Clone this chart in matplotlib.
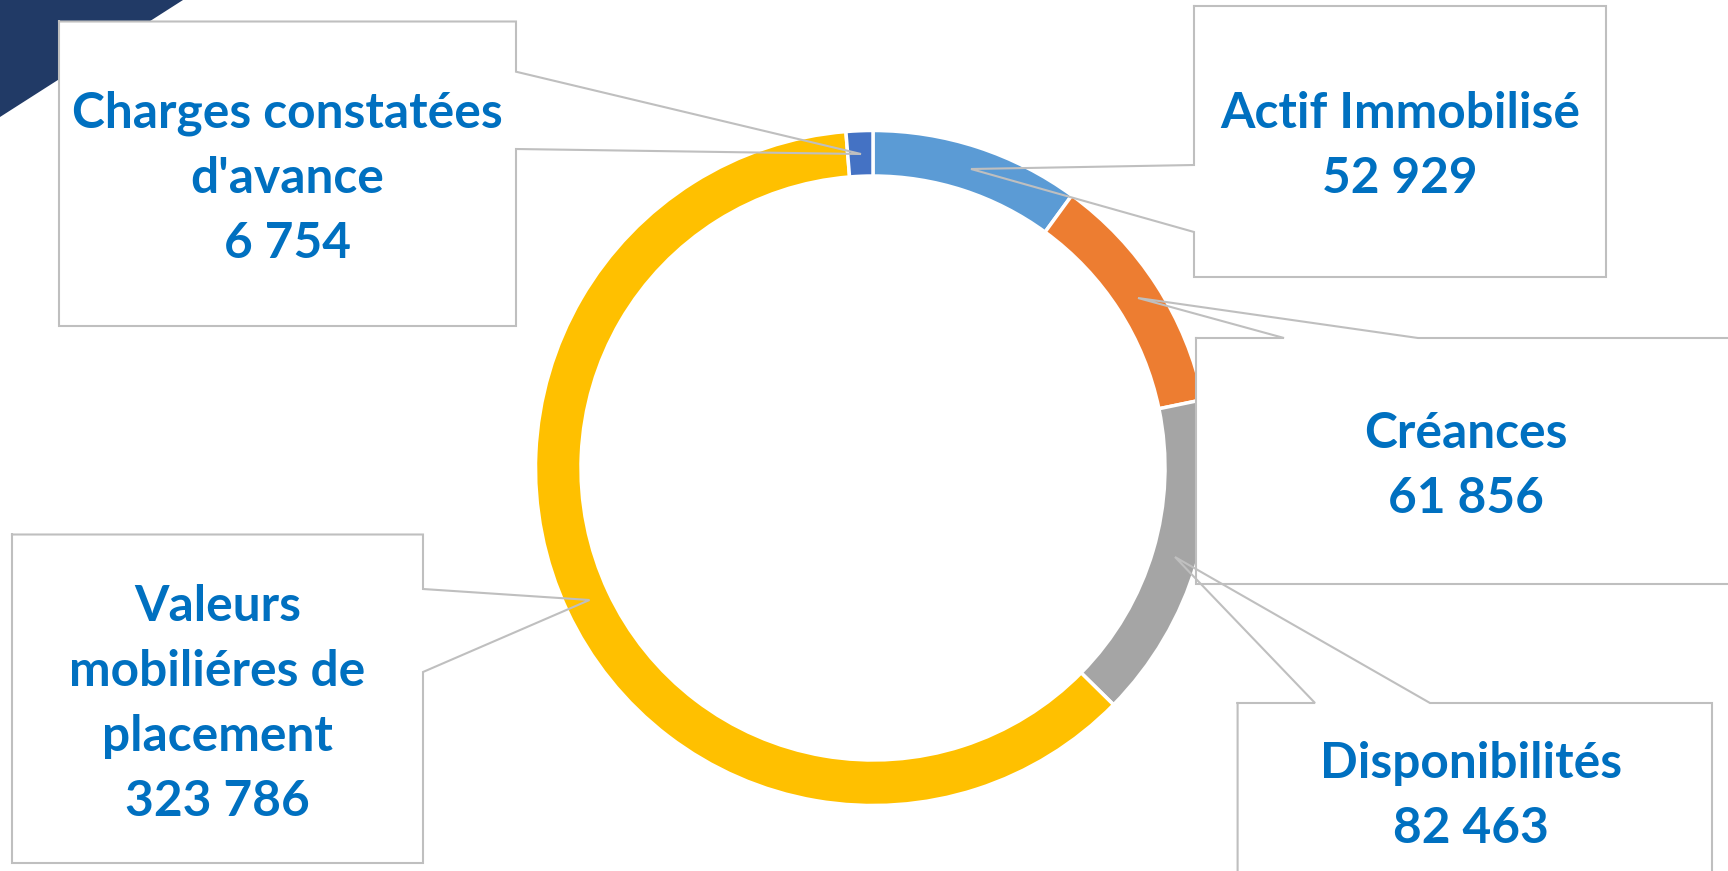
import matplotlib
matplotlib.use("Agg")
import matplotlib.pyplot as plt
from matplotlib.patches import Rectangle, Polygon
from matplotlib.lines import Line2D

# ---------------- data ----------------
categories = ["Actif Immobilisé", "Créances", "Disponibilités",
              "Valeurs mobiliéres de placement", "Charges constatées d'avance"]
values = [52929, 61856, 82463, 323786, 6754]
wrapped_labels = ["Actif Immobilisé", "Créances", "Disponibilités",
                  "Valeurs\nmobiliéres de\nplacement", "Charges constatées\nd'avance"]
colors = ["#5B9BD5", "#ED7D31", "#A5A5A5", "#FFC000", "#4472C4"]

# ---------------- layout (pixel coords, y down) ----------------
W, H = 1728, 871
DPI = 100
center = (873, 468)
r_out, r_in = 337.5, 292.0

# box: (left, top, right, bottom), pointer: (edge, a1, a2, tipx, tipy), text: (x, first baseline)
callouts = [
    dict(box=(1194, 6, 1606, 277), ptr=("left", 165, 232, 971, 169), txt=(1400, 127.7)),
    dict(box=(1196, 338, 1745, 584), ptr=("top", 1284, 1418, 1138, 298), txt=(1466, 447.5)),
    dict(box=(1237.6, 703, 1712, 900), ptr=("top", 1315, 1430, 1175, 557), txt=(1471, 777.5)),
    dict(box=(12, 534.5, 423, 863), ptr=("right", 589, 672, 589.5, 600), txt=(217.5, 620.7)),
    dict(box=(59, 21.5, 516, 326), ptr=("right", 71.7, 149, 861, 154), txt=(287.5, 127.7)),
]
LINE_STEP = 65
TEXT_COLOR = "#0070C0"
EDGE = "#BFBFBF"

fig = plt.figure(figsize=(W / DPI, H / DPI), dpi=DPI)
ax = fig.add_axes([0, 0, 1, 1])

# decorative dark corner
ax.add_patch(Polygon([(0, 0), (183, 0), (0, 117)], closed=True,
                     facecolor="#213A66", edgecolor="none", zorder=0.5))

# donut: inverted y-axis -> start at 270 (visual top), counterclock=True is visually clockwise
ax.pie(values, colors=colors, startangle=270, counterclock=True, radius=r_out,
       center=center, frame=True,
       wedgeprops=dict(width=r_out - r_in, edgecolor="white", linewidth=2.5))
for p in ax.patches[1:]:
    p.set_zorder(1)

ax.set_xlim(0, W)
ax.set_ylim(H, 0)
ax.set_aspect("auto")
ax.axis("off")

# font size fitted so that "Actif Immobilisé" is ~359 px wide
family = ["Lato", "DejaVu Sans"]
probe = ax.text(0, 0, "Actif Immobilisé", fontsize=36, fontweight="bold", family=family)
fig.canvas.draw()
wpx = probe.get_window_extent().width
probe.remove()
fs = 36 * 359.0 / wpx


def outline(box, ptr):
    l, t, r, b = box
    edge, a1, a2, tx, ty = ptr
    if edge == "left":
        pts = [(l, t), (r, t), (r, b), (l, b), (l, a2), (tx, ty), (l, a1), (l, t)]
    elif edge == "right":
        pts = [(l, t), (r, t), (r, a1), (tx, ty), (r, a2), (r, b), (l, b), (l, t)]
    else:  # top
        pts = [(l, t), (a1, t), (tx, ty), (a2, t), (r, t), (r, b), (l, b), (l, t)]
    return pts


for c, lab, v in zip(callouts, wrapped_labels, values):
    l, t, r, b = c["box"]
    ax.add_patch(Rectangle((l, t), r - l, b - t, facecolor="white",
                           edgecolor="none", zorder=3))
    pts = outline(c["box"], c["ptr"])
    xs, ys = zip(*pts)
    ax.add_line(Line2D(xs, ys, color=EDGE, linewidth=1.5, zorder=4,
                       solid_joinstyle="miter"))
    lines = lab.split("\n") + [f"{v:,}".replace(",", " ")]
    x0, y0 = c["txt"]
    for i, ln in enumerate(lines):
        ax.text(x0, y0 + i * LINE_STEP, ln, ha="center", va="baseline",
                fontsize=fs, fontweight="bold", color=TEXT_COLOR,
                family=family, zorder=5)

fig.savefig("out.png", dpi=DPI)
